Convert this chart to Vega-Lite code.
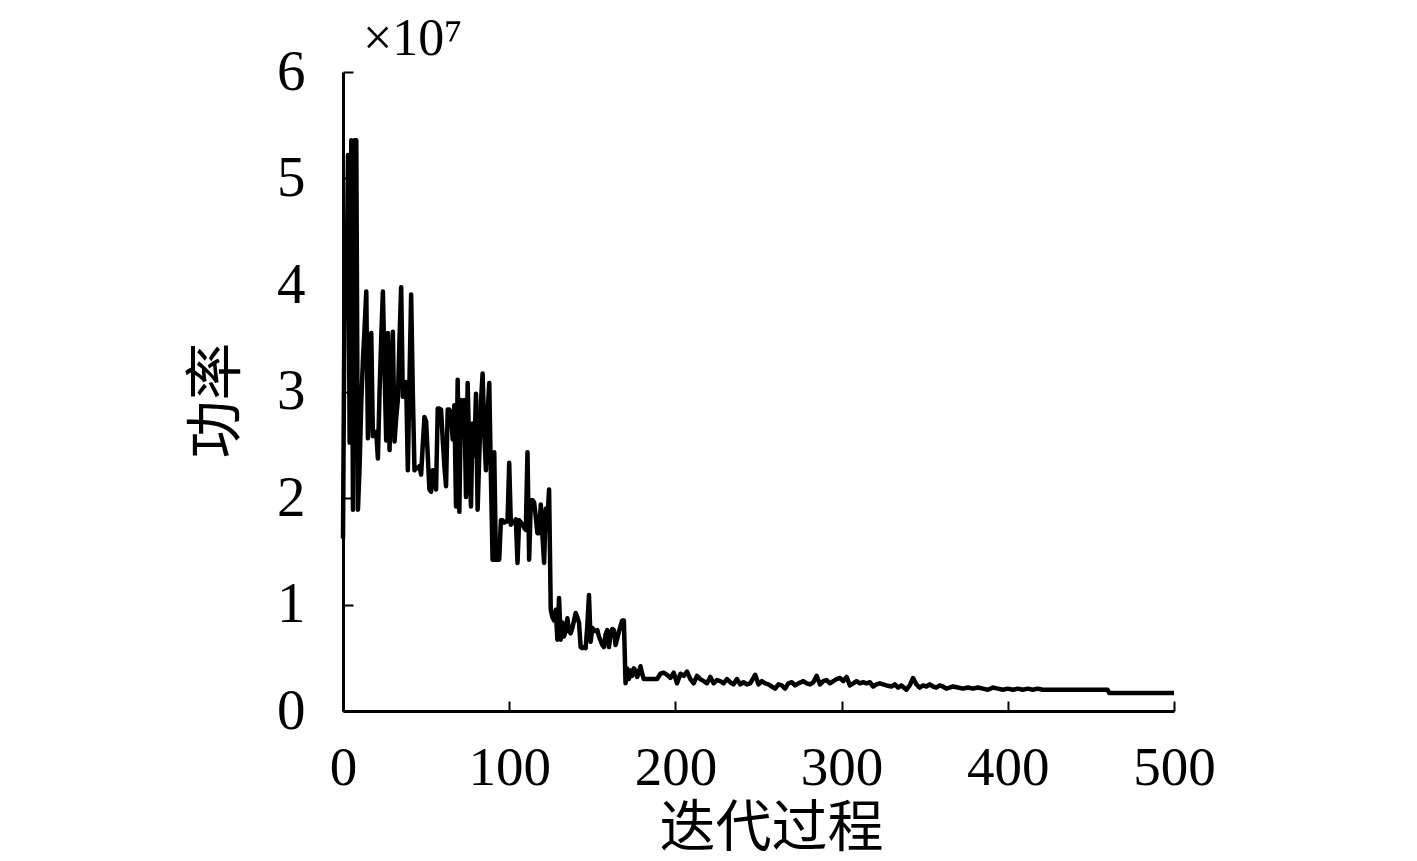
{
  "$schema": "https://vega.github.io/schema/vega-lite/v6.json",
  "width": 831,
  "height": 639,
  "autosize": "none",
  "padding": {"left": 343, "top": 72, "right": 243, "bottom": 150},
  "background": "white",
  "config": {"view": {"stroke": null}, "font": "Liberation Serif"},
  "title": {
    "text": "×10⁷",
    "anchor": "start",
    "frame": "group",
    "dx": 20,
    "dy": 64,
    "offset": 0,
    "baseline": "alphabetic",
    "font": "Liberation Serif",
    "fontSize": 52,
    "fontWeight": "normal",
    "color": "black"
  },
  "data": {
    "values": [
      {"iter": 0, "power": 1.62}, {"iter": 1, "power": 4.12}, {"iter": 2, "power": 3.7}, {"iter": 3, "power": 5.22},
      {"iter": 4, "power": 2.52}, {"iter": 5, "power": 5.36}, {"iter": 6, "power": 1.89}, {"iter": 7, "power": 5.36},
      {"iter": 8, "power": 5.36}, {"iter": 9, "power": 1.89}, {"iter": 10, "power": 2.3}, {"iter": 11, "power": 2.9},
      {"iter": 12, "power": 3.3}, {"iter": 13, "power": 3.6}, {"iter": 14, "power": 3.94}, {"iter": 15, "power": 2.56},
      {"iter": 16, "power": 3.0}, {"iter": 17, "power": 3.55}, {"iter": 18, "power": 2.58}, {"iter": 19, "power": 2.62},
      {"iter": 20, "power": 2.62}, {"iter": 21, "power": 2.37}, {"iter": 22, "power": 3.0}, {"iter": 23, "power": 3.5},
      {"iter": 24, "power": 3.94}, {"iter": 25, "power": 3.2}, {"iter": 26, "power": 2.54}, {"iter": 27, "power": 3.55},
      {"iter": 28, "power": 2.45}, {"iter": 29, "power": 3.0}, {"iter": 30, "power": 3.56}, {"iter": 31, "power": 2.53},
      {"iter": 32, "power": 2.75}, {"iter": 33, "power": 2.92}, {"iter": 34, "power": 3.5}, {"iter": 35, "power": 3.98},
      {"iter": 36, "power": 2.95}, {"iter": 37, "power": 3.0}, {"iter": 38, "power": 3.09}, {"iter": 39, "power": 2.26},
      {"iter": 40, "power": 3.1}, {"iter": 41, "power": 3.91}, {"iter": 42, "power": 3.0}, {"iter": 43, "power": 2.26},
      {"iter": 44, "power": 2.28}, {"iter": 45, "power": 2.28}, {"iter": 46, "power": 2.3}, {"iter": 47, "power": 2.22},
      {"iter": 48, "power": 2.5}, {"iter": 49, "power": 2.76}, {"iter": 50, "power": 2.72}, {"iter": 51, "power": 2.4},
      {"iter": 52, "power": 2.08}, {"iter": 53, "power": 2.06}, {"iter": 54, "power": 2.26}, {"iter": 55, "power": 2.18},
      {"iter": 56, "power": 2.08}, {"iter": 57, "power": 2.84}, {"iter": 58, "power": 2.84}, {"iter": 59, "power": 2.83},
      {"iter": 60, "power": 2.55}, {"iter": 61, "power": 2.3}, {"iter": 62, "power": 2.11}, {"iter": 63, "power": 2.83},
      {"iter": 64, "power": 2.83}, {"iter": 65, "power": 2.78}, {"iter": 66, "power": 2.55}, {"iter": 67, "power": 2.87},
      {"iter": 68, "power": 1.92}, {"iter": 69, "power": 3.11}, {"iter": 70, "power": 1.87}, {"iter": 71, "power": 2.92},
      {"iter": 72, "power": 2.9}, {"iter": 73, "power": 2.92}, {"iter": 74, "power": 2.01}, {"iter": 75, "power": 3.08},
      {"iter": 76, "power": 2.4}, {"iter": 77, "power": 1.92}, {"iter": 78, "power": 2.7}, {"iter": 79, "power": 2.4},
      {"iter": 80, "power": 2.98}, {"iter": 81, "power": 1.89}, {"iter": 82, "power": 2.4}, {"iter": 83, "power": 2.9},
      {"iter": 84, "power": 3.17}, {"iter": 85, "power": 2.6}, {"iter": 86, "power": 2.26}, {"iter": 87, "power": 2.8},
      {"iter": 88, "power": 3.08}, {"iter": 89, "power": 2.2}, {"iter": 90, "power": 1.42}, {"iter": 91, "power": 2.43},
      {"iter": 92, "power": 1.42}, {"iter": 93, "power": 1.42}, {"iter": 94, "power": 1.42}, {"iter": 95, "power": 1.79},
      {"iter": 96, "power": 1.79}, {"iter": 97, "power": 1.77}, {"iter": 98, "power": 1.78}, {"iter": 99, "power": 1.78},
      {"iter": 100, "power": 2.33}, {"iter": 101, "power": 1.75}, {"iter": 102, "power": 1.77}, {"iter": 103, "power": 1.78},
      {"iter": 104, "power": 1.8}, {"iter": 105, "power": 1.39}, {"iter": 106, "power": 1.79}, {"iter": 107, "power": 1.77},
      {"iter": 108, "power": 1.75}, {"iter": 109, "power": 1.72}, {"iter": 110, "power": 1.7}, {"iter": 111, "power": 2.43},
      {"iter": 112, "power": 1.42}, {"iter": 113, "power": 1.98}, {"iter": 114, "power": 1.98}, {"iter": 115, "power": 1.96},
      {"iter": 116, "power": 1.82}, {"iter": 117, "power": 1.67}, {"iter": 118, "power": 1.67}, {"iter": 119, "power": 1.94},
      {"iter": 120, "power": 1.65}, {"iter": 121, "power": 1.39}, {"iter": 122, "power": 1.9}, {"iter": 123, "power": 1.8},
      {"iter": 124, "power": 2.08}, {"iter": 125, "power": 0.95}, {"iter": 126, "power": 0.88}, {"iter": 127, "power": 0.85},
      {"iter": 128, "power": 0.95}, {"iter": 129, "power": 0.67}, {"iter": 130, "power": 1.06}, {"iter": 131, "power": 0.67},
      {"iter": 132, "power": 0.83}, {"iter": 133, "power": 0.7}, {"iter": 134, "power": 0.75}, {"iter": 135, "power": 0.87},
      {"iter": 136, "power": 0.75}, {"iter": 137, "power": 0.73}, {"iter": 138, "power": 0.78}, {"iter": 139, "power": 0.85},
      {"iter": 140, "power": 0.92}, {"iter": 141, "power": 0.88}, {"iter": 142, "power": 0.83}, {"iter": 143, "power": 0.6},
      {"iter": 144, "power": 0.59}, {"iter": 145, "power": 0.6}, {"iter": 146, "power": 0.59}, {"iter": 147, "power": 0.8},
      {"iter": 148, "power": 1.09}, {"iter": 149, "power": 0.65}, {"iter": 150, "power": 0.78}, {"iter": 151, "power": 0.76},
      {"iter": 152, "power": 0.75}, {"iter": 153, "power": 0.76}, {"iter": 154, "power": 0.7}, {"iter": 155, "power": 0.66},
      {"iter": 156, "power": 0.62}, {"iter": 157, "power": 0.6}, {"iter": 158, "power": 0.72}, {"iter": 159, "power": 0.76},
      {"iter": 160, "power": 0.6}, {"iter": 161, "power": 0.72}, {"iter": 162, "power": 0.77}, {"iter": 163, "power": 0.76},
      {"iter": 164, "power": 0.62}, {"iter": 165, "power": 0.68}, {"iter": 166, "power": 0.74}, {"iter": 167, "power": 0.8},
      {"iter": 168, "power": 0.85}, {"iter": 169, "power": 0.85}, {"iter": 170, "power": 0.26}, {"iter": 171, "power": 0.4},
      {"iter": 172, "power": 0.3}, {"iter": 173, "power": 0.38}, {"iter": 174, "power": 0.33}, {"iter": 175, "power": 0.4},
      {"iter": 176, "power": 0.38}, {"iter": 177, "power": 0.32}, {"iter": 178, "power": 0.36}, {"iter": 179, "power": 0.42},
      {"iter": 180, "power": 0.35}, {"iter": 181, "power": 0.3}, {"iter": 183, "power": 0.3}, {"iter": 185, "power": 0.3},
      {"iter": 187, "power": 0.3}, {"iter": 189, "power": 0.3}, {"iter": 191, "power": 0.35}, {"iter": 193, "power": 0.36},
      {"iter": 195, "power": 0.34}, {"iter": 197, "power": 0.31}, {"iter": 199, "power": 0.36}, {"iter": 201, "power": 0.26},
      {"iter": 203, "power": 0.35}, {"iter": 205, "power": 0.33}, {"iter": 207, "power": 0.37}, {"iter": 209, "power": 0.3},
      {"iter": 211, "power": 0.26}, {"iter": 213, "power": 0.33}, {"iter": 215, "power": 0.3}, {"iter": 217, "power": 0.28},
      {"iter": 219, "power": 0.26}, {"iter": 221, "power": 0.32}, {"iter": 223, "power": 0.26}, {"iter": 225, "power": 0.29},
      {"iter": 227, "power": 0.28}, {"iter": 229, "power": 0.26}, {"iter": 231, "power": 0.3}, {"iter": 233, "power": 0.27},
      {"iter": 235, "power": 0.25}, {"iter": 237, "power": 0.3}, {"iter": 239, "power": 0.25}, {"iter": 241, "power": 0.27},
      {"iter": 243, "power": 0.25}, {"iter": 245, "power": 0.26}, {"iter": 248, "power": 0.34}, {"iter": 250, "power": 0.25},
      {"iter": 252, "power": 0.28}, {"iter": 254, "power": 0.26}, {"iter": 256, "power": 0.25}, {"iter": 258, "power": 0.23},
      {"iter": 260, "power": 0.21}, {"iter": 262, "power": 0.25}, {"iter": 264, "power": 0.24}, {"iter": 266, "power": 0.21},
      {"iter": 268, "power": 0.26}, {"iter": 270, "power": 0.27}, {"iter": 272, "power": 0.24}, {"iter": 274, "power": 0.26},
      {"iter": 277, "power": 0.28}, {"iter": 279, "power": 0.26}, {"iter": 281, "power": 0.25}, {"iter": 283, "power": 0.27},
      {"iter": 285, "power": 0.33}, {"iter": 287, "power": 0.25}, {"iter": 289, "power": 0.28}, {"iter": 291, "power": 0.29},
      {"iter": 293, "power": 0.26}, {"iter": 295, "power": 0.28}, {"iter": 297, "power": 0.3}, {"iter": 299, "power": 0.31},
      {"iter": 301, "power": 0.28}, {"iter": 303, "power": 0.32}, {"iter": 305, "power": 0.24}, {"iter": 307, "power": 0.26},
      {"iter": 309, "power": 0.28}, {"iter": 311, "power": 0.26}, {"iter": 313, "power": 0.27}, {"iter": 315, "power": 0.26},
      {"iter": 317, "power": 0.27}, {"iter": 319, "power": 0.23}, {"iter": 321, "power": 0.25}, {"iter": 323, "power": 0.26},
      {"iter": 325, "power": 0.25}, {"iter": 327, "power": 0.24}, {"iter": 330, "power": 0.23}, {"iter": 332, "power": 0.25},
      {"iter": 334, "power": 0.22}, {"iter": 336, "power": 0.24}, {"iter": 339, "power": 0.2}, {"iter": 341, "power": 0.24},
      {"iter": 343, "power": 0.31}, {"iter": 345, "power": 0.25}, {"iter": 347, "power": 0.22}, {"iter": 349, "power": 0.24},
      {"iter": 351, "power": 0.23}, {"iter": 353, "power": 0.25}, {"iter": 355, "power": 0.23}, {"iter": 357, "power": 0.22},
      {"iter": 359, "power": 0.24}, {"iter": 361, "power": 0.23}, {"iter": 363, "power": 0.21}, {"iter": 365, "power": 0.22},
      {"iter": 367, "power": 0.23}, {"iter": 370, "power": 0.22}, {"iter": 373, "power": 0.21}, {"iter": 376, "power": 0.22},
      {"iter": 379, "power": 0.21}, {"iter": 382, "power": 0.22}, {"iter": 385, "power": 0.21}, {"iter": 388, "power": 0.2},
      {"iter": 391, "power": 0.22}, {"iter": 394, "power": 0.21}, {"iter": 397, "power": 0.2}, {"iter": 400, "power": 0.21},
      {"iter": 403, "power": 0.2}, {"iter": 406, "power": 0.21}, {"iter": 409, "power": 0.2}, {"iter": 412, "power": 0.21},
      {"iter": 415, "power": 0.2}, {"iter": 418, "power": 0.21}, {"iter": 421, "power": 0.2}, {"iter": 460, "power": 0.2},
      {"iter": 461, "power": 0.17}, {"iter": 500, "power": 0.17}
    ]
  },
  "mark": {"type": "line", "color": "black", "strokeWidth": 4.5, "strokeJoin": "round", "clip": false},
  "encoding": {
    "x": {
      "field": "iter",
      "type": "quantitative",
      "scale": {"domain": [0, 500], "nice": false, "zero": true},
      "axis": {
        "title": "迭代过程",
        "values": [0, 100, 200, 300, 400, 500],
        "grid": false,
        "labelFlush": false,
        "labelFont": "Liberation Serif",
        "labelFontSize": 55,
        "labelColor": "black",
        "labelPadding": 40,
        "tickSize": -10,
        "tickWidth": 2,
        "tickColor": "black",
        "domainColor": "black",
        "domainWidth": 3,
        "titleFont": "Noto Sans CJK SC",
        "titleFontSize": 56,
        "titleFontWeight": "normal",
        "titleColor": "black",
        "titlePadding": 6,
        "titleX": 428,
        "titleAlign": "center"
      }
    },
    "y": {
      "field": "power",
      "type": "quantitative",
      "scale": {"domain": [0, 6], "nice": false},
      "axis": {
        "title": "功率",
        "values": [0, 1, 2, 3, 4, 5, 6],
        "grid": false,
        "labelFont": "Liberation Serif",
        "labelFontSize": 57,
        "labelColor": "black",
        "labelPadding": 48,
        "tickSize": -10,
        "tickWidth": 2,
        "tickColor": "black",
        "domainColor": "black",
        "domainWidth": 3,
        "titleFont": "Noto Sans CJK SC",
        "titleFontSize": 58,
        "titleFontWeight": "normal",
        "titleColor": "black",
        "titlePadding": 30,
        "titleY": 328
      }
    }
  }
}
